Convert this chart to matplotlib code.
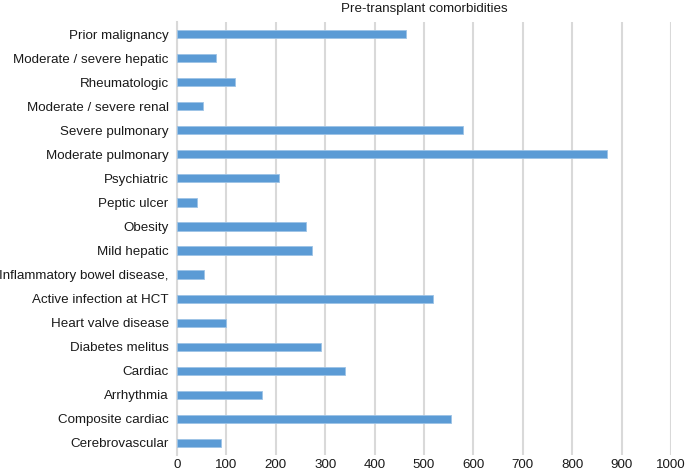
import matplotlib
matplotlib.use("Agg")
import matplotlib.pyplot as plt

categories = [
    "Prior malignancy",
    "Moderate / severe hepatic",
    "Rheumatologic",
    "Moderate / severe renal",
    "Severe pulmonary",
    "Moderate pulmonary",
    "Psychiatric",
    "Peptic ulcer",
    "Obesity",
    "Mild hepatic",
    "Inflammatory bowel disease,",
    "Active infection at HCT",
    "Heart valve disease",
    "Diabetes melitus",
    "Cardiac",
    "Arrhythmia",
    "Composite cardiac",
    "Cerebrovascular",
]
values = [464, 78, 117, 52, 578, 870, 206, 40, 262, 274, 54, 518, 100, 291, 341, 172, 555, 89]
xticks = list(range(0, 1001, 100))
title = "Pre-transplant comorbidities"

plt.rcParams['font.family'] = ['Liberation Sans', 'DejaVu Sans']

fig = plt.figure(figsize=(6.85, 4.72), dpi=100)
ax = fig.add_axes([177/685, 1 - 455/472, (671-177)/685, (455-22)/472])

ypos = list(range(len(categories)))
ax.barh(ypos, values, height=0.34, color="#5B9BD5", edgecolor="#9DC3E6", linewidth=0.6, zorder=3)
ax.set_yticks(ypos)
ax.set_yticklabels(categories, fontsize=9.6, color="#1a1a1a")
ax.set_ylim(len(categories) - 0.5, -0.5)
ax.set_xlim(0, 1000)
ax.set_xticks(xticks)
ax.set_xticklabels([str(t) for t in xticks], fontsize=9.6, color="#1a1a1a")
ax.grid(axis="x", color="#D9D9D9", linewidth=1.5, zorder=0)
for s in ["top", "right", "bottom"]:
    ax.spines[s].set_visible(False)
ax.spines["left"].set_color("#D9D9D9")
ax.spines["left"].set_linewidth(1.5)
ax.tick_params(axis="y", length=0, pad=6)
ax.tick_params(axis="x", length=0, pad=3)
ax.set_title(title, fontsize=9.6, color="#1a1a1a", pad=7)

fig.savefig("out.png", dpi=100)
